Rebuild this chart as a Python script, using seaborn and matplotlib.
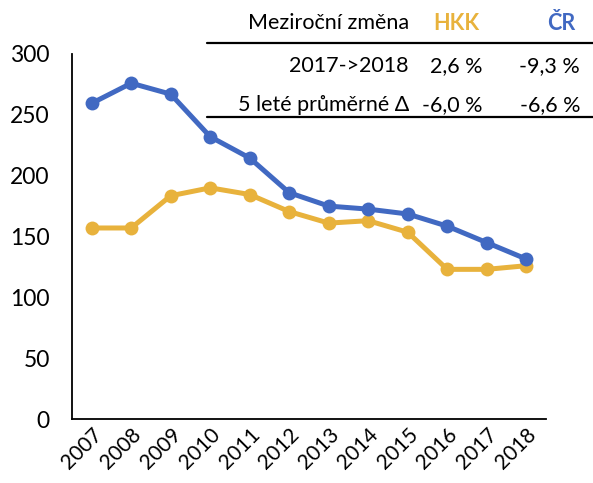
import pandas as pd
import seaborn as sns
import matplotlib.pyplot as plt
from matplotlib.lines import Line2D

# hodnoty
years = list(range(2007, 2019))
hkk = [157, 157, 183.5, 190, 184.5, 170.5, 161, 163, 153.5, 123, 123, 126]
cr = [259.5, 276, 267, 232, 214.5, 186, 175, 172.5, 168.5, 158.5, 145, 131.5]

table_rows = ['2017->2018', '5 leté průměrné Δ']
table_hkk = ['2,6 %', '-6,0 %']
table_cr = ['-9,3 %', '-6,6 %']

blue = '#4169C2'
gold = '#E8B23C'

sns.set_style('white')
plt.rcParams['font.family'] = ['Lato', 'DejaVu Sans']

df = pd.DataFrame({'rok': years * 2,
                   'hodnota': hkk + cr,
                   'kraj': ['HKK'] * len(years) + ['ČR'] * len(years)})

fig = plt.figure(figsize=(5.93, 4.83), dpi=100)
ax = fig.add_axes([0.1214, 0.1325, 0.7993, 0.7557])

sns.lineplot(data=df, x='rok', y='hodnota', hue='kraj',
             palette={'HKK': gold, 'ČR': blue}, hue_order=['HKK', 'ČR'],
             marker='o', markersize=10, markeredgewidth=0, linewidth=3.6,
             legend=False, ax=ax)

ax.set_xlim(2006.5, 2018.5)
ax.set_ylim(0, 300)
ax.set_yticks(range(0, 301, 50))
ax.set_xticks(years)
ax.set_xticklabels([str(y) for y in years], rotation=45, ha='right',
                   rotation_mode='anchor', fontsize=15)
ax.tick_params(axis='y', labelsize=16.5, length=0, pad=16, labelcolor='black')
ax.tick_params(axis='x', length=0, pad=4, labelcolor='black')
ax.set_xlabel('')
ax.set_ylabel('')
for s in ['top', 'right']:
    ax.spines[s].set_visible(False)
for s in ['left', 'bottom']:
    ax.spines[s].set_color('black')
    ax.spines[s].set_linewidth(1.3)

# tabulka meziročních změn
W, H = 593, 483
def fx(px):
    return px / W
def fy(py):
    return 1 - py / H

fs = 15.5
fig.text(fx(409), fy(23), 'Meziroční změna', ha='right', va='center', fontsize=fs, color='black')
fig.text(fx(456), fy(23), 'HKK', ha='center', va='center', fontsize=fs,
         color=gold, fontweight='bold')
fig.text(fx(561), fy(23), 'ČR', ha='center', va='center', fontsize=fs,
         color=blue, fontweight='bold')
for i, row in enumerate(table_rows):
    yy = [66, 105][i]
    fig.text(fx(409), fy(yy), row, ha='right', va='center', fontsize=fs, color='black')
    fig.text(fx(483), fy(yy), table_hkk[i], ha='right', va='center', fontsize=fs, color='black')
    fig.text(fx(580), fy(yy), table_cr[i], ha='right', va='center', fontsize=fs, color='black')

for yy in [42.7, 117]:
    fig.add_artist(Line2D([fx(207), 1.0], [fy(yy), fy(yy)], color='black', linewidth=1.6))

fig.savefig('out.png', dpi=100)
